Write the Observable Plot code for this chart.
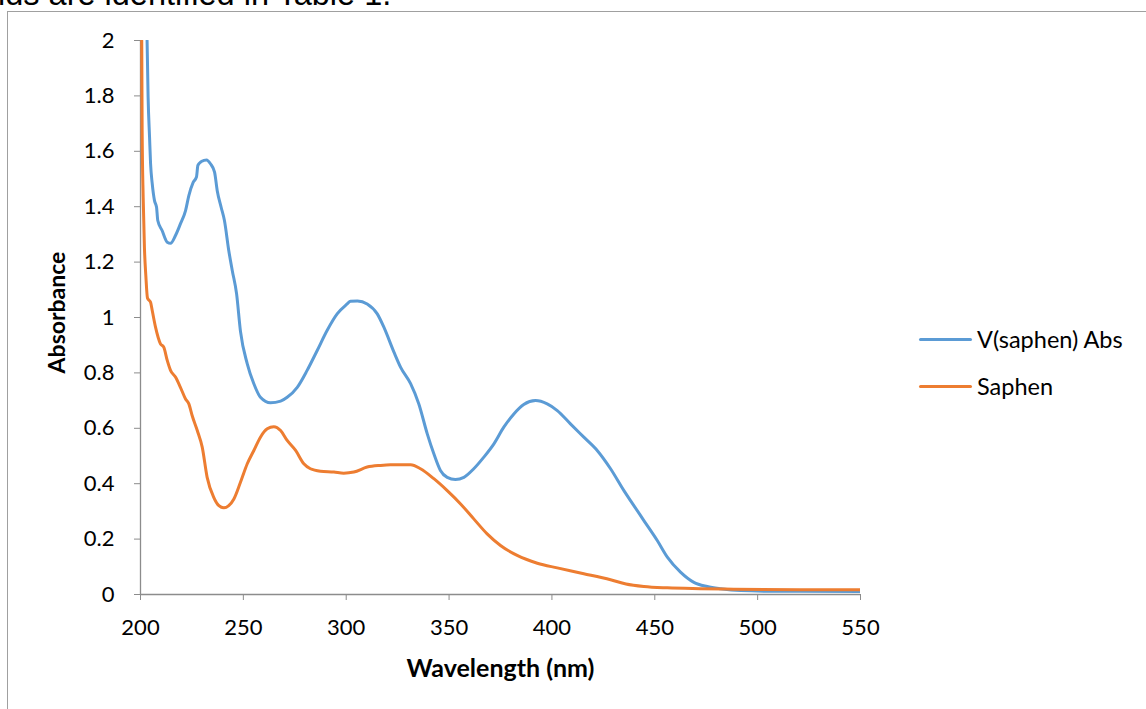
<!DOCTYPE html>
<html>
<head>
<meta charset="utf-8">
<script src="https://cdn.jsdelivr.net/npm/d3@7"></script>
<script src="https://cdn.jsdelivr.net/npm/@observablehq/plot@0.6"></script>
<style>
  html, body { margin: 0; padding: 0; background: #fff; }
  #wrap { position: relative; width: 1146px; height: 709px; overflow: hidden; font-family: Lato, "Open Sans", sans-serif; }
  #doctext { position: absolute; left: -2px; top: -22px; font-family: "Liberation Sans", Arial, sans-serif; font-size: 32.5px; line-height: 32px; color: #000; white-space: nowrap; }
  #frame { position: absolute; left: 7px; top: 11px; width: 1200px; height: 800px; border-left: 1.5px solid #a0a0a0; border-top: 1.5px solid #a0a0a0; }
  #chart { position: absolute; left: 0; top: 0; }
  .leg { position: absolute; left: 919px; font-size: 23.5px; color: #000; display: flex; align-items: center; white-space: nowrap; }
  .leg span.sw { display: inline-block; width: 53px; height: 3px; border-radius: 2px; margin-right: 5px; }
</style>
</head>
<body>
<div id="wrap">
  <div id="doctext">ids are identified in Table 1.</div>
  <div id="frame"></div>
  <div id="chart"></div>
  <div id="legend"></div>
</div>
<script>
// Series: V(saphen) Abs
const vNm  = [203.2,203.7,204.4,204.9,205.7,206.8,207.8,208.4,210.5,213,214.6,217,219.4,221.9,223.5,225.6,227.2,227.9,229.2,230.8,232.1,234,236,237.3,239.2,240.8,242.9,244.6,246.7,248.6,251.9,255.1,258.3,263.2,268.1,271.3,276.2,281,285.9,290.7,295.6,300.5,302.1,305.5,310.2,315.1,318.3,323.2,326.4,331.3,335.3,339.4,342.6,345.8,349.1,353.1,357.2,362,366.9,371.8,376.6,381.5,386.3,392,397.7,402.6,409,415.5,422,428.5,435,438.2,444.7,451.2,456.1,462.5,469,475.5,482,491.7,504.6,550];
const vAbs = [2.0,1.795,1.651,1.555,1.483,1.422,1.398,1.350,1.314,1.272,1.268,1.296,1.338,1.386,1.440,1.488,1.507,1.549,1.561,1.567,1.569,1.555,1.525,1.458,1.398,1.350,1.242,1.170,1.086,0.950,0.833,0.761,0.712,0.692,0.698,0.712,0.748,0.809,0.881,0.953,1.013,1.049,1.059,1.060,1.049,1.013,0.965,0.875,0.821,0.761,0.688,0.580,0.508,0.448,0.423,0.415,0.423,0.454,0.496,0.544,0.604,0.652,0.686,0.700,0.688,0.664,0.616,0.568,0.520,0.454,0.375,0.339,0.267,0.195,0.135,0.081,0.044,0.029,0.021,0.014,0.012,0.011];
// Series: Saphen
const sNm  = [200.6,200.8,201.3,201.9,202.6,203.4,204.9,205.7,207.3,209.7,211.3,213,214.6,217,219.4,221.9,223.5,225.1,227.6,230,232.4,235.6,238.1,240.5,242.9,245.4,248.6,251.9,255.1,258.3,261.6,264.8,268.1,271.3,275.4,279.4,282.6,287.5,294,298.8,303.7,310.2,316.7,321.5,326.4,331.3,336.1,342.6,349.1,355.6,362,368.5,375,383.1,392.9,402.6,415.5,428.5,436,444.7,456.1,472.2,488.4,520.8,550];
const sAbs = [2.0,1.675,1.434,1.254,1.15,1.07,1.055,1.025,0.965,0.905,0.893,0.845,0.809,0.785,0.748,0.706,0.688,0.646,0.592,0.532,0.423,0.351,0.321,0.313,0.321,0.345,0.405,0.472,0.520,0.568,0.598,0.606,0.592,0.556,0.520,0.472,0.454,0.445,0.442,0.438,0.442,0.460,0.466,0.468,0.468,0.468,0.454,0.418,0.375,0.327,0.273,0.219,0.177,0.141,0.113,0.096,0.075,0.053,0.038,0.029,0.024,0.021,0.019,0.017,0.017];

const seriesNames = ["V(saphen) Abs", "Saphen"];
const seriesColors = ["#5B9BD5", "#ED7D31"];
const xTicks = [200, 250, 300, 350, 400, 450, 500, 550];
const yTicks = [0, 0.2, 0.4, 0.6, 0.8, 1, 1.2, 1.4, 1.6, 1.8, 2];
const yTickLabels = ["0", "0.2", "0.4", "0.6", "0.8", "1", "1.2", "1.4", "1.6", "1.8", "2"];
const xTitle = "Wavelength (nm)";
const yTitle = "Absorbance";

const vData = vNm.map((x, i) => ({x, y: vAbs[i], s: seriesNames[0]}));
const sData = sNm.map((x, i) => ({x, y: sAbs[i], s: seriesNames[1]}));

const axisGray = "#8c8c8c";
const chart = Plot.plot({
  width: 1146,
  height: 709,
  marginLeft: 140,
  marginRight: 286,
  marginTop: 40,
  marginBottom: 115,
  style: {fontFamily: "Lato, 'Open Sans', sans-serif", fontSize: "22px", background: "transparent", overflow: "visible"},
  x: {domain: [200, 550]},
  y: {domain: [0, 2]},
  marks: [
    Plot.axisX({ticks: xTicks, tickSize: 6, tickPadding: 19, stroke: axisGray, fill: "#000", label: null, fontSize: 22}),
    Plot.axisY({ticks: yTicks, tickFormat: (d) => yTickLabels[yTicks.indexOf(d)], tickSize: 6, tickPadding: 20, stroke: axisGray, fill: "#000", label: null, fontSize: 22}),
    Plot.ruleY([0], {stroke: axisGray, strokeWidth: 1.3}),
    Plot.ruleX([200], {stroke: axisGray, strokeWidth: 1.3}),
    Plot.line(vData, {x: "x", y: "y", stroke: seriesColors[0], strokeWidth: 3, curve: "monotone-x", clip: true}),
    Plot.line(sData, {x: "x", y: "y", stroke: seriesColors[1], strokeWidth: 3, curve: "monotone-x", clip: true}),
    Plot.text([xTitle], {frameAnchor: "bottom", textAnchor: "middle", lineAnchor: "middle", dy: 74, fontWeight: "bold", fontSize: 25, fill: "#000"}),
    Plot.text([yTitle], {frameAnchor: "left", textAnchor: "middle", lineAnchor: "middle", rotate: -90, dx: -83, dy: -5, fontWeight: "bold", fontSize: 23, fill: "#000"})
  ]
});
document.getElementById("chart").appendChild(chart);

// Legend
const legend = document.getElementById("legend");
const legendTops = [325, 372];
seriesNames.forEach((name, i) => {
  const d = document.createElement("div");
  d.className = "leg";
  d.style.top = legendTops[i] + "px";
  const sw = document.createElement("span");
  sw.className = "sw";
  sw.style.background = seriesColors[i];
  d.appendChild(sw);
  d.appendChild(document.createTextNode(name));
  legend.appendChild(d);
});
</script>
</body>
</html>
